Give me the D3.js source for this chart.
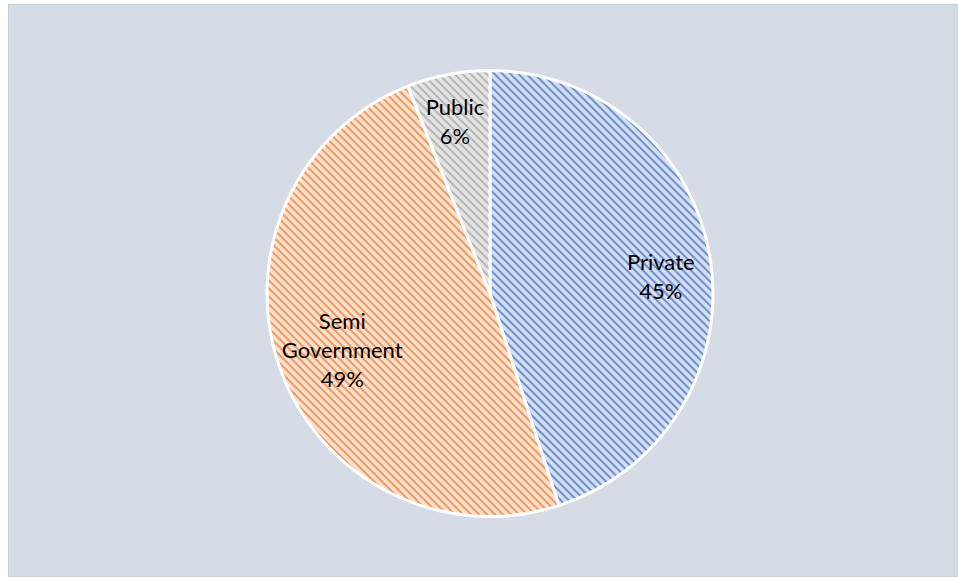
<!DOCTYPE html>
<html>
<head>
<meta charset="utf-8">
<script src="https://cdn.jsdelivr.net/npm/d3@7/dist/d3.min.js"></script>
<style>
  html, body { margin: 0; padding: 0; background: #ffffff; }
  svg { display: block; }
</style>
</head>
<body>
<svg id="chart" width="958" height="578"></svg>
<script>
// Ownership shares (percent)
const categories = ["Private", "Semi Government", "Public"];
const shares = [45, 49, 6];
const labelLines = [["Private"], ["Semi", "Government"], ["Public"]];

const baseColors = ["#d8e1f3", "#fce3d2", "#e6e5e5"];
const stripeColors = ["#4472c4", "#ed7d31", "#a5a5a5"];

const W = 958, H = 578;
const svg = d3.select("#chart");

// chart area panel
svg.append("rect")
  .attr("x", 8.5).attr("y", 4.5)
  .attr("width", W - 8.5).attr("height", H - 6)
  .attr("fill", "#d6dce5")
  .attr("stroke", "#c9ced6")
  .attr("stroke-width", 1);

// diagonal hatch fills
const defs = svg.append("defs");
categories.forEach((c, i) => {
  const p = defs.append("pattern")
    .attr("id", "hatch" + i)
    .attr("patternUnits", "userSpaceOnUse")
    .attr("width", 8).attr("height", 8);
  p.append("rect").attr("width", 8).attr("height", 8).attr("fill", baseColors[i]);
  p.append("path")
    .attr("d", "M-2,-2 L10,10 M-6,2 L2,10 M6,-2 L10,2")
    .attr("stroke", stripeColors[i])
    .attr("stroke-width", 2)
    .attr("stroke-opacity", 0.75);
});

const cx = 490, cy = 293.5, r = 223;

const pie = d3.pie().sort(null).value(d => d);
const arcs = pie(shares);
const arc = d3.arc().innerRadius(0).outerRadius(r);

const g = svg.append("g").attr("transform", `translate(${cx},${cy})`);

g.selectAll("path.slice")
  .data(arcs)
  .join("path")
  .attr("class", "slice")
  .attr("d", arc)
  .attr("fill", (d, i) => `url(#hatch${i})`)
  .attr("stroke", "#ffffff")
  .attr("stroke-width", 3)
  .attr("stroke-linejoin", "round");

// label placement along each slice's mid-angle, with small nudges
const labelRadius = [0.78, 0.69, 0.79];
const labelNudge = [[-1, 10], [-3, 5], [-2, 1]];
const lineH = 29;
const labels = g.selectAll("text.lbl")
  .data(arcs)
  .join("text")
  .attr("class", "lbl")
  .attr("text-anchor", "middle")
  .attr("font-family", "Lato, 'Open Sans', sans-serif")
  .attr("font-size", 22)
  .attr("fill", "#000000");

labels.each(function(d, i) {
  const a = (d.startAngle + d.endAngle) / 2;
  const rr = r * labelRadius[i];
  const x = Math.sin(a) * rr + labelNudge[i][0];
  const y = -Math.cos(a) * rr + labelNudge[i][1];
  const lines = labelLines[i].concat([shares[i] + "%"]);
  const top = y - (lines.length - 1) * lineH / 2;
  const t = d3.select(this);
  lines.forEach((ln, k) => {
    t.append("tspan")
      .attr("x", x)
      .attr("y", top + k * lineH)
      .attr("dy", "0.35em")
      .text(ln);
  });
});
</script>
</body>
</html>
